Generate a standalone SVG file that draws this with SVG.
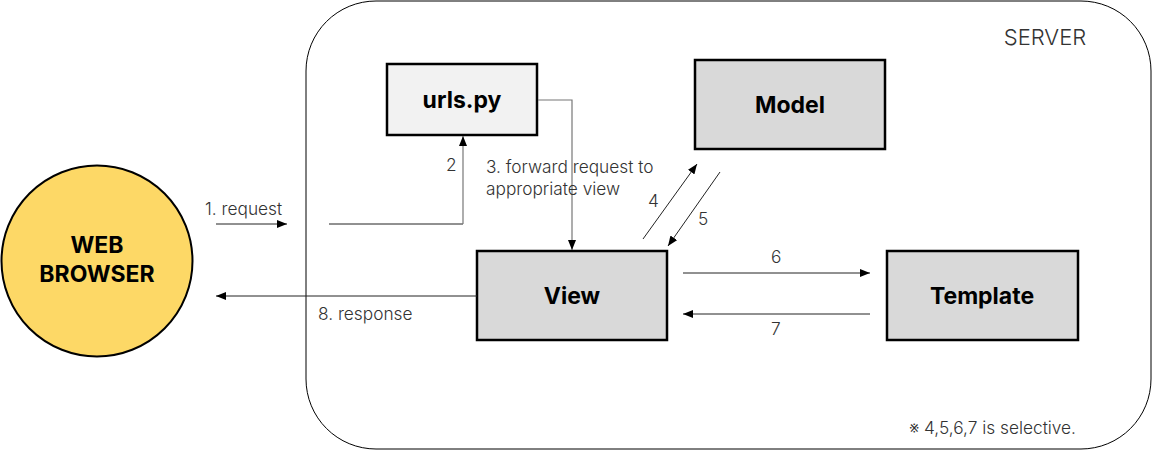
<svg xmlns="http://www.w3.org/2000/svg" width="1152" height="451" viewBox="0 0 1152 451">
<style>
.lbl{font-family:Inter,"Noto Sans",sans-serif;font-weight:300;font-size:17.3px;fill:#333}
.bold{font-family:Inter,"Noto Sans",sans-serif;font-weight:700;font-size:23px;fill:#000;text-anchor:middle}
.box{stroke:#000;stroke-width:2.5}
.ln{fill:none;stroke:#222;stroke-width:1}
.gr{fill:none;stroke:#777;stroke-width:1.2}
</style>
<defs>
<marker id="ah" markerWidth="10" markerHeight="8" refX="10" refY="4" orient="auto" markerUnits="userSpaceOnUse">
<path d="M0,0 L10,4 L0,8 Z" fill="#000"/>
</marker>
</defs>
<g id="server">
<rect x="306" y="1" width="845" height="448" rx="70" ry="70" fill="#fff" stroke="#000" stroke-width="1"/>
<text x="1045" y="45" class="lbl" style="font-size:22px" text-anchor="middle">SERVER</text>
<text x="1076" y="434" class="lbl" text-anchor="end">※ 4,5,6,7 is selective.</text>
</g>
<g id="browser">
<circle cx="97" cy="261" r="95.5" fill="#fdd866" stroke="#000" stroke-width="2"/>
<text x="97" y="253" class="bold">WEB</text>
<text x="97" y="282" class="bold">BROWSER</text>
</g>
<g id="urls">
<rect x="387" y="64" width="150" height="71" fill="#f2f2f2" class="box"/>
<text x="462" y="108" class="bold">urls.py</text>
</g>
<g id="model">
<rect x="695" y="60" width="190" height="89" fill="#d9d9d9" class="box"/>
<text x="790" y="113" class="bold">Model</text>
</g>
<g id="view">
<rect x="477" y="251" width="190" height="89" fill="#d9d9d9" class="box"/>
<text x="572" y="304" class="bold">View</text>
</g>
<g id="template">
<rect x="887" y="251" width="191" height="89" fill="#d9d9d9" class="box"/>
<text x="982" y="304" class="bold">Template</text>
</g>
<g id="connectors">
<line x1="216" y1="224" x2="287" y2="224" class="ln" marker-end="url(#ah)"/>
<polyline points="329,224 463,224" class="ln"/>
<polyline points="463,224 463,136" class="gr" marker-end="url(#ah)"/>
<polyline points="538,100 572,100 572,250" class="gr" marker-end="url(#ah)"/>
<line x1="643" y1="239" x2="697" y2="164" class="ln" marker-end="url(#ah)"/>
<line x1="720" y1="172" x2="668" y2="246" class="ln" marker-end="url(#ah)"/>
<line x1="683" y1="273" x2="870" y2="273" class="ln" marker-end="url(#ah)"/>
<line x1="870" y1="314" x2="683" y2="314" class="ln" marker-end="url(#ah)"/>
<line x1="477" y1="296" x2="216" y2="296" class="ln" marker-end="url(#ah)"/>
</g>
<g id="labels">
<text x="205" y="215" class="lbl">1. request</text>
<text x="446" y="171" class="lbl">2</text>
<text x="486" y="173" class="lbl">3. forward request to</text>
<text x="486" y="195" class="lbl">appropriate view</text>
<text x="648" y="207" class="lbl">4</text>
<text x="698" y="225" class="lbl">5</text>
<text x="771" y="263" class="lbl">6</text>
<text x="771" y="335" class="lbl">7</text>
<text x="318" y="320" class="lbl">8. response</text>
</g>
</svg>
